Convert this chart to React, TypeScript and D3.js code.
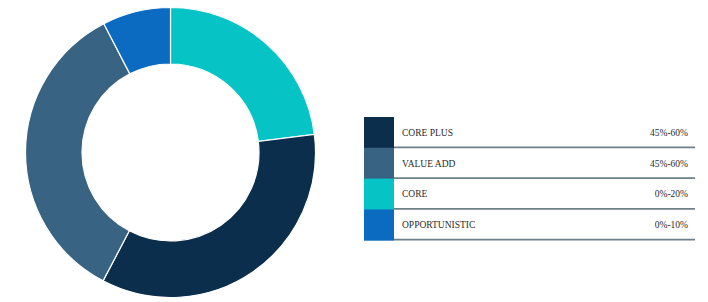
import React from "react";
import * as d3 from "d3";

const sliceNames = ["CORE", "CORE PLUS", "VALUE ADD", "OPPORTUNISTIC"];
const sliceValues = [23.0, 34.7, 34.7, 7.6];
const sliceColors = ["#06C4C6", "#0B2E4C", "#386383", "#0B6BC0"];

const legendNames = ["CORE PLUS", "VALUE ADD", "CORE", "OPPORTUNISTIC"];
const legendRanges = ["45%-60%", "45%-60%", "0%-20%", "0%-10%"];
const legendColors = ["#0B2E4C", "#386383", "#06C4C6", "#0B6BC0"];

export default function App() {
  const W = 708, H = 302;
  const cx = 170.5, cy = 152.5, rOuter = 145, rInner = 88.5;
  const pie = d3.pie<number>().sort(null).value((d) => d)(sliceValues);
  const arc = d3.arc<d3.PieArcDatum<number>>().innerRadius(rInner).outerRadius(rOuter);

  const legendX = 364, legendTop = 117, rowH = 30.8, swatchW = 30, lineEnd = 695;
  const rowY = d3.scaleLinear().domain([0, legendNames.length]).range([legendTop, legendTop + rowH * legendNames.length]);

  return (
    <svg width={W} height={H} style={{ position: "absolute", left: 0, top: 0, background: "#fff" }}>
      <g transform={`translate(${cx},${cy})`}>
        {pie.map((p, i) => (
          <path key={sliceNames[i]} d={arc(p) || ""} fill={sliceColors[i]} stroke="#fff" strokeWidth={1.2} />
        ))}
      </g>
      <g fontFamily="'Liberation Serif', 'Times New Roman', serif" fontSize={9.5} fill="#2a2a2a">
        {legendNames.map((name, i) => {
          const y0 = rowY(i), y1 = rowY(i + 1);
          return (
            <g key={name}>
              <rect x={legendX} y={y0} width={swatchW} height={y1 - y0 + 0.5} fill={legendColors[i]} />
              <line x1={legendX + swatchW} x2={lineEnd} y1={y1 - 0.5} y2={y1 - 0.5} stroke="#6E7F87" strokeWidth={1.8} />
              <text x={legendX + 38} y={(y0 + y1) / 2 + 3.3}>{name}</text>
              <text x={688} y={(y0 + y1) / 2 + 3.3} textAnchor="end">{legendRanges[i]}</text>
            </g>
          );
        })}
      </g>
    </svg>
  );
}
